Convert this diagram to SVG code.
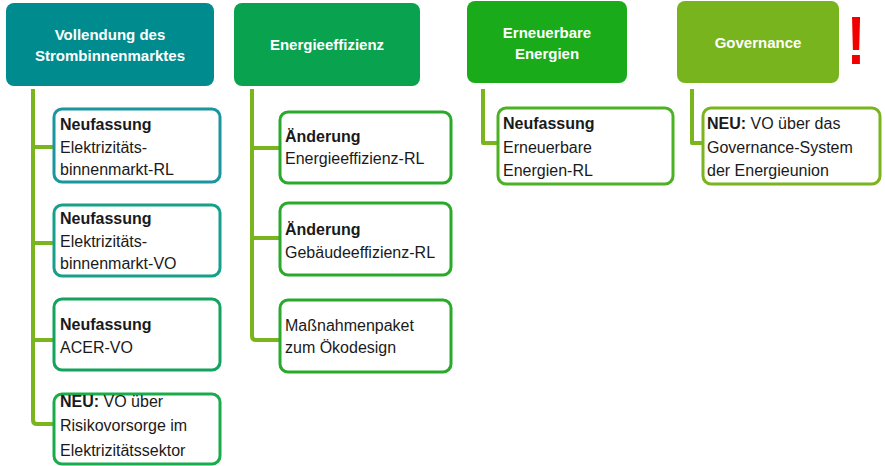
<svg xmlns="http://www.w3.org/2000/svg" width="885" height="466" viewBox="0 0 885 466">
<style>
.hd{font-family:"Liberation Sans",Arial,sans-serif;font-weight:bold;font-size:15px;fill:#fff;text-anchor:middle}
.tx{font-family:"Liberation Sans",Arial,sans-serif;font-size:16px;fill:#1a1a1a}
.b{font-weight:bold}
.box{fill:#fff;stroke-width:3}
.con{fill:none;stroke:#7ab51d;stroke-width:4;stroke-linejoin:round}
</style>
<rect width="885" height="466" fill="#fff"/>
<g id="connectors">
<path class="con" d="M33,89 V420 Q33,424 37,424 H53 M33,147 H53 M33,243 H53 M33,340 H53"/>
<path class="con" d="M252,89 V336 Q252,340 256,340 H280 M252,148 H280 M252,238 H280"/>
<path class="con" d="M483,89 V143 H498"/>
<path class="con" d="M692,89 V143 H703"/>
</g>
<g id="h1"><rect x="6" y="3" width="208" height="83" rx="8" fill="#008c8f"/>
<text class="hd" x="110" y="40">Vollendung des</text><text class="hd" x="110" y="61">Strombinnenmarktes</text></g>
<g id="h2"><rect x="234" y="3" width="186" height="83" rx="8" fill="#09a24f"/>
<text class="hd" x="327" y="50">Energieeffizienz</text></g>
<g id="h3"><rect x="467" y="1" width="160" height="82" rx="8" fill="#19ab19"/>
<text class="hd" x="547" y="38">Erneuerbare</text><text class="hd" x="547" y="59">Energien</text></g>
<g id="h4"><rect x="677" y="1" width="162" height="82" rx="8" fill="#77b41d"/>
<text class="hd" x="758" y="48">Governance</text></g>
<g id="excl"><text transform="translate(856,0) scale(1,1.22)" x="0" y="52.5" font-family="Liberation Sans,Arial,sans-serif" font-weight="bold" font-size="56" fill="#f20000" text-anchor="middle">!</text></g>
<g id="c1a"><rect class="box" x="54" y="109" width="166" height="73" rx="8" stroke="#1b96a1"/>
<text class="tx b" x="60" y="130">Neufassung</text><text class="tx" x="60" y="153">Elektrizitäts-</text><text class="tx" x="60" y="175">binnenmarkt-RL</text></g>
<g id="c1b"><rect class="box" x="54" y="205" width="166" height="71" rx="8" stroke="#16a08a"/>
<text class="tx b" x="60" y="224">Neufassung</text><text class="tx" x="60" y="247">Elektrizitäts-</text><text class="tx" x="60" y="269">binnenmarkt-VO</text></g>
<g id="c1c"><rect class="box" x="54" y="299" width="166" height="71" rx="8" stroke="#13a35f"/>
<text class="tx b" x="60" y="330">Neufassung</text><text class="tx" x="60" y="353">ACER-VO</text></g>
<g id="c1d"><rect class="box" x="54" y="394" width="166" height="70" rx="8" stroke="#1aab4a"/>
<text class="tx" x="60" y="407"><tspan class="b">NEU:</tspan> VO über</text><text class="tx" x="60" y="431">Risikovorsorge im</text><text class="tx" x="60" y="456">Elektrizitätssektor</text></g>
<g id="c2a"><rect class="box" x="280" y="112" width="171" height="71" rx="8" stroke="#2aaa2a"/>
<text class="tx b" x="285" y="142">Änderung</text><text class="tx" x="285" y="164">Energieeffizienz-RL</text></g>
<g id="c2b"><rect class="box" x="280" y="203" width="171" height="72" rx="8" stroke="#2aaa2a"/>
<text class="tx b" x="285" y="235">Änderung</text><text class="tx" x="285" y="258">Gebäudeeffizienz-RL</text></g>
<g id="c2c"><rect class="box" x="280" y="300" width="171" height="72" rx="8" stroke="#2aaa2a"/>
<text class="tx" x="285" y="331">Maßnahmenpaket</text><text class="tx" x="285" y="353">zum Ökodesign</text></g>
<g id="c3"><rect class="box" x="498" y="108" width="175" height="76" rx="8" stroke="#4cb223"/>
<text class="tx b" x="503" y="129">Neufassung</text><text class="tx" x="503" y="153">Erneuerbare</text><text class="tx" x="503" y="176">Energien-RL</text></g>
<g id="c4"><rect class="box" x="703" y="108" width="177" height="76" rx="8" stroke="#7ab51d"/>
<text class="tx" x="707" y="129"><tspan class="b">NEU:</tspan> VO über das</text><text class="tx" x="707" y="153">Governance-System</text><text class="tx" x="707" y="176">der Energieunion</text></g>
</svg>
